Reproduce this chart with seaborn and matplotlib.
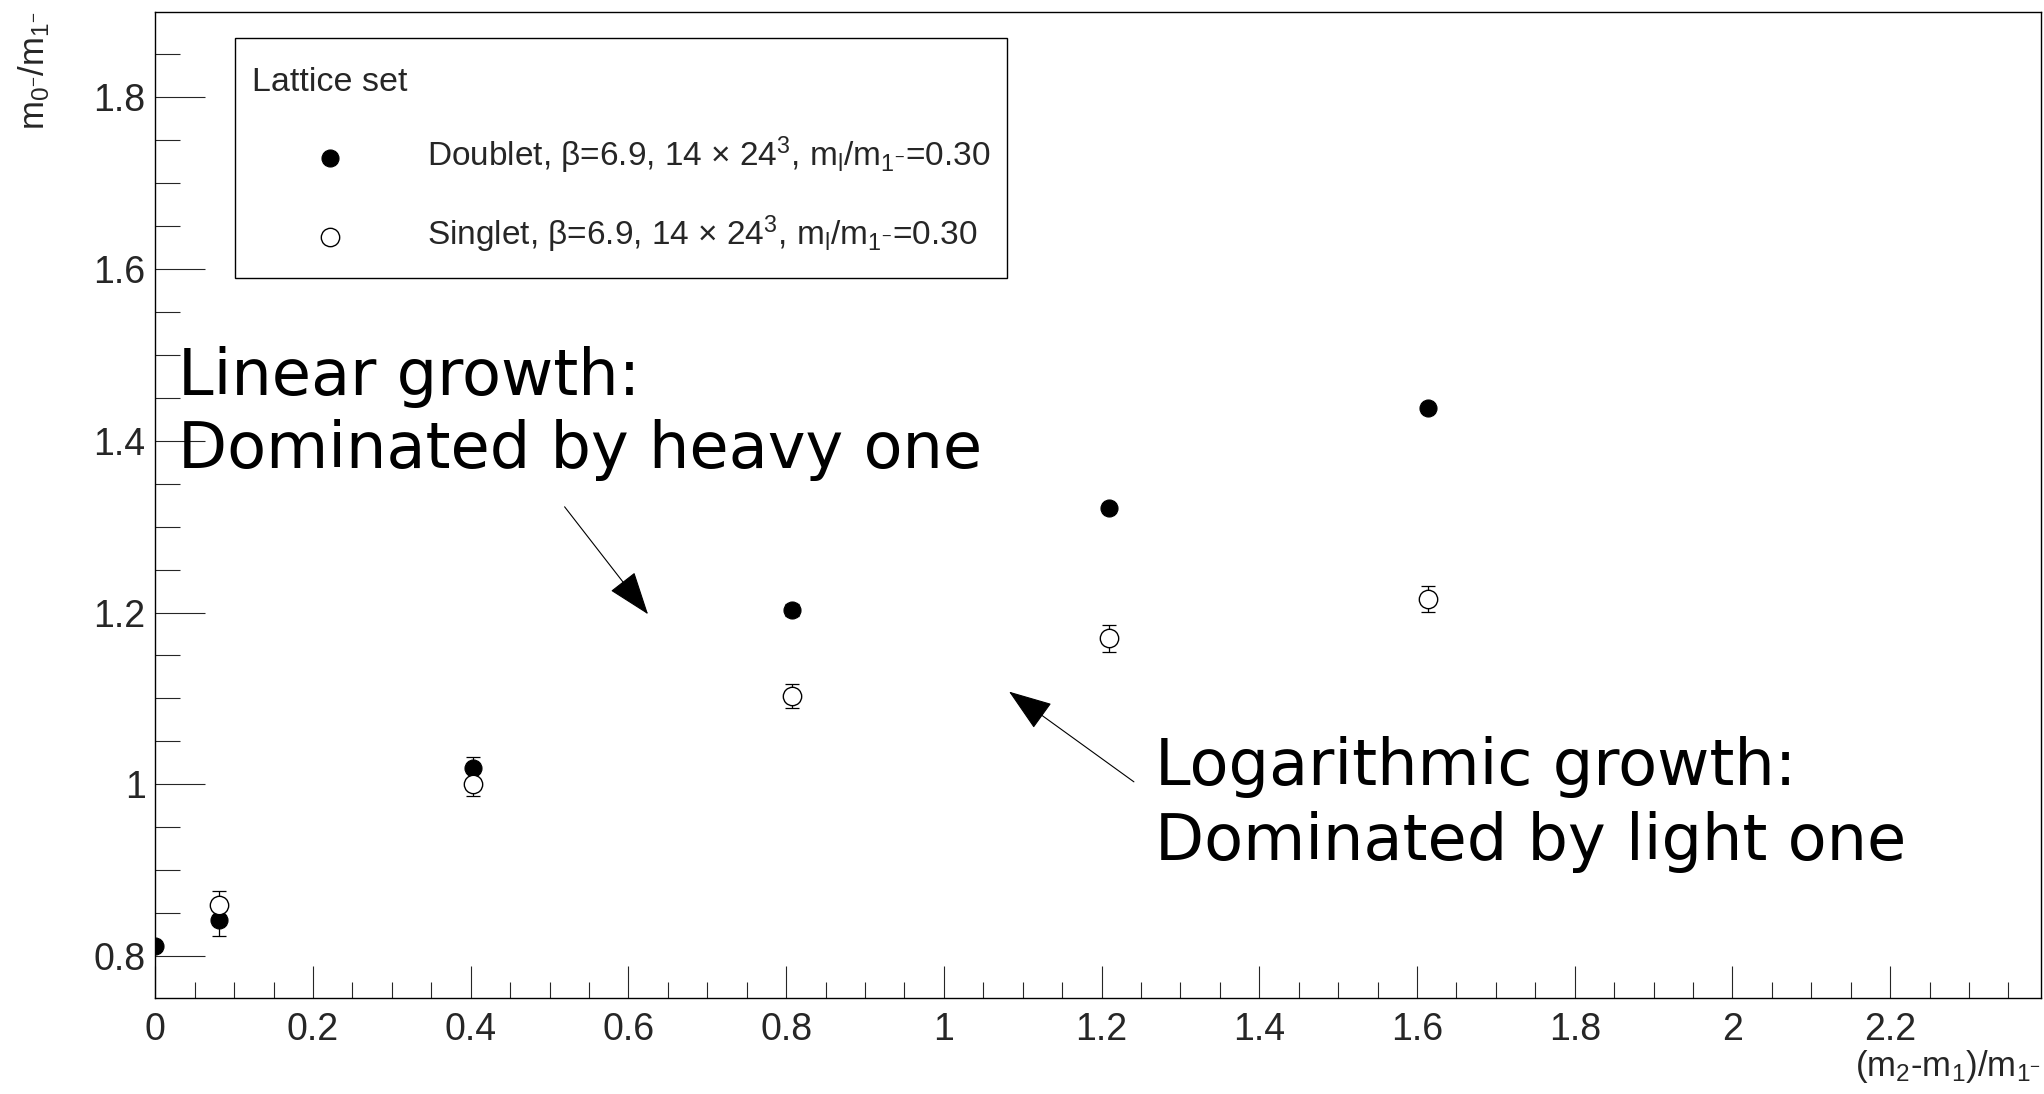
import numpy as np
import pandas as pd
import matplotlib
matplotlib.use("Agg")
import matplotlib.pyplot as plt
from matplotlib.ticker import MultipleLocator, FormatStrFormatter
from matplotlib.offsetbox import VPacker, DrawingArea
import seaborn as sns

# ---------------- data ----------------
x_doublet = [0.0, 0.081, 0.403, 0.807, 1.210, 1.614]
y_doublet = [0.812, 0.842, 1.019, 1.203, 1.322, 1.4375]
err_doublet = [0.0, 0.018, 0.013, 0.007, 0.004, 0.004]

x_singlet = [0.081, 0.403, 0.807, 1.210, 1.614]
y_singlet = [0.860, 1.001, 1.103, 1.170, 1.216]
err_singlet = [0.016, 0.015, 0.014, 0.0155, 0.015]

label_doublet = r"Doublet, β=6.9, 14 × $24^{3}$, $m_{l}/m_{1^{-}}$=0.30"
label_singlet = r"Singlet, β=6.9, 14 × $24^{3}$, $m_{l}/m_{1^{-}}$=0.30"
legend_title = "Lattice set"
xlabel = r"$(m_{2}$-$m_{1})/m_{1^{-}}$"
ylabel = r"$m_{0^{-}}/m_{1^{-}}$"

ann1_lines = ["Linear growth:", "Dominated by heavy one"]
ann2_lines = ["Logarithmic growth:", "Dominated by light one"]

# ---------------- style ----------------
sns.set_style("ticks")
plt.rcParams["font.family"] = ["Liberation Sans", "DejaVu Sans"]
plt.rcParams["mathtext.fontset"] = "custom"
plt.rcParams["mathtext.rm"] = "Liberation Sans"
plt.rcParams["mathtext.it"] = "Liberation Sans"
plt.rcParams["mathtext.default"] = "regular"

fig = plt.figure(figsize=(20.44, 10.94), dpi=100)
ax = fig.add_axes([0.076, 0.0875, 0.9224, 0.9018])

df_d = pd.DataFrame({"x": x_doublet, "y": y_doublet, "e": err_doublet})
df_s = pd.DataFrame({"x": x_singlet, "y": y_singlet, "e": err_singlet})

# error bars
ax.errorbar(df_d["x"], df_d["y"], yerr=df_d["e"], fmt="none", ecolor="black",
            elinewidth=0.9, capsize=5, capthick=0.9, zorder=2)
ax.errorbar(df_s["x"], df_s["y"], yerr=df_s["e"], fmt="none", ecolor="black",
            elinewidth=0.9, capsize=5, capthick=0.9, zorder=2)

sns.scatterplot(data=df_d, x="x", y="y", ax=ax, marker="o", s=150,
                color="black", edgecolor="black", linewidth=0.8,
                label=label_doublet, zorder=3)
sns.scatterplot(data=df_s, x="x", y="y", ax=ax, marker="o", s=175,
                facecolor="white", edgecolor="black", linewidth=1.0,
                label=label_singlet, zorder=3)

ax.set_xlim(0, 2.391)
ax.set_ylim(0.7512, 1.899)

ax.xaxis.set_major_locator(MultipleLocator(0.2))
ax.xaxis.set_minor_locator(MultipleLocator(0.05))
ax.yaxis.set_major_locator(MultipleLocator(0.2))
ax.yaxis.set_minor_locator(MultipleLocator(0.05))
ax.xaxis.set_major_formatter(FormatStrFormatter("%g"))
ax.yaxis.set_major_formatter(FormatStrFormatter("%g"))

ax.tick_params(axis="x", which="major", direction="in", length=23, width=0.8,
               labelsize=27, pad=10, top=False)
ax.tick_params(axis="x", which="minor", direction="in", length=11.5, width=0.8, top=False)
ax.tick_params(axis="y", which="major", direction="in", length=36, width=0.8,
               labelsize=27, pad=7, right=False)
ax.tick_params(axis="y", which="minor", direction="in", length=18, width=0.8, right=False)

for sp in ax.spines.values():
    sp.set_visible(True)
    sp.set_linewidth(1.0)
    sp.set_color("black")

ax.set_xlabel(xlabel, fontsize=25, ha="right", va="top")
ax.xaxis.set_label_coords(1.0, -0.05)
ax.set_ylabel(ylabel, fontsize=25, ha="right")
ax.yaxis.set_label_coords(-0.055, 1.0)

# legend
leg = ax.legend(title=legend_title, loc="upper left",
                bbox_to_anchor=(0.0423, 0.9733), borderaxespad=0,
                fontsize=24, title_fontsize=24.5, alignment="left",
                frameon=True, fancybox=False, framealpha=1, edgecolor="black",
                borderpad=0.5, handlelength=4.7, handletextpad=0.57,
                labelspacing=1.12, markerscale=1.0)
leg.get_frame().set_linewidth(1.0)
# extra room above the legend title and below the entries (ROOT-like layout)
spacer_top = DrawingArea(1, 8.6, 0, 0)
title_pack = VPacker(children=[spacer_top, leg._legend_title_box], pad=0, sep=0, align="left")
spacer_bot = DrawingArea(1, 4.0, 0, 0)
entries_pack = VPacker(children=[leg._legend_handle_box, spacer_bot], pad=0, sep=0, align="left")
leg._legend_box._children[0] = title_pack
leg._legend_box._children[1] = entries_pack
title_pack.set_figure(fig)
entries_pack.set_figure(fig)

# annotations
txt_kw = dict(fontsize=46, family="DejaVu Sans", ha="left", va="baseline", color="black")
ax.text(0.0286, 1.453, ann1_lines[0], **txt_kw)
ax.text(0.0286, 1.3677, ann1_lines[1], **txt_kw)
ax.text(1.268, 0.9993, ann2_lines[0], **txt_kw)
ax.text(1.268, 0.9121, ann2_lines[1], **txt_kw)

arrow_kw = dict(arrowstyle="-|>,head_length=1.4,head_width=0.5", mutation_scale=20,
                color="black", lw=0.8, shrinkA=0, shrinkB=0)
ax.annotate("", xy=(0.6248, 1.198), xytext=(0.519, 1.323), arrowprops=arrow_kw)
ax.annotate("", xy=(1.0826, 1.108), xytext=(1.241, 1.003), arrowprops=arrow_kw)

fig.savefig("out.png", dpi=100)
